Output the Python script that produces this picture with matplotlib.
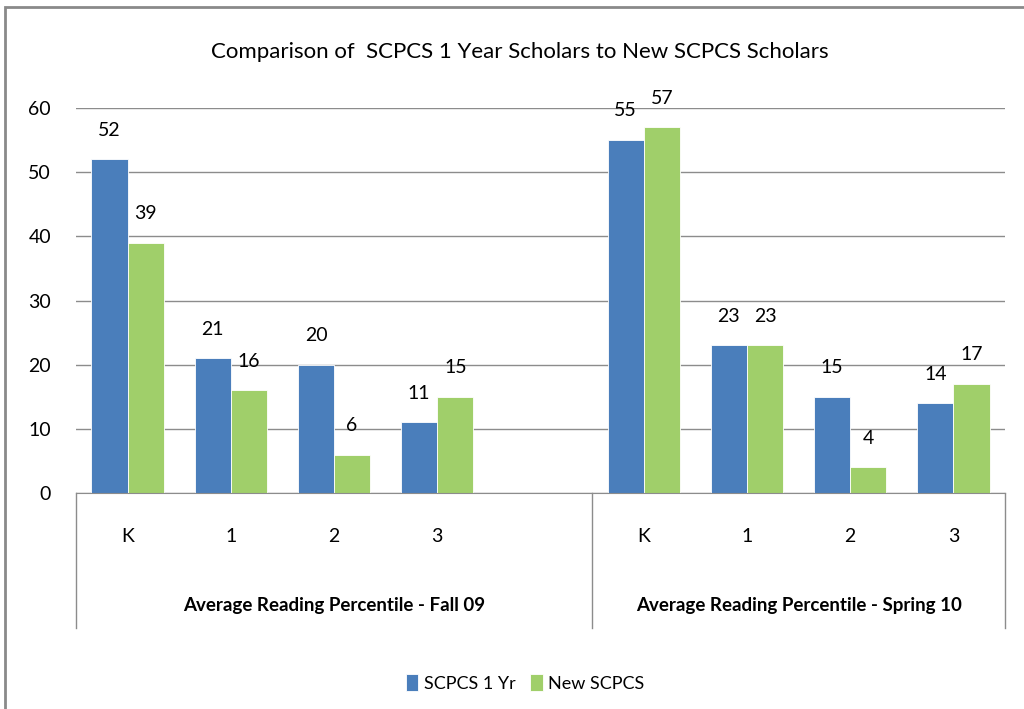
import numpy as np
import matplotlib
matplotlib.use('Agg')
import matplotlib.pyplot as plt
from matplotlib.patches import Rectangle

# data
grades = ['K', '1', '2', '3']
terms = ['Average Reading Percentile - Fall 09', 'Average Reading Percentile - Spring 10']
series_names = ['SCPCS 1 Yr', 'New SCPCS']
scpcs_1yr_fall = [52, 21, 20, 11]
scpcs_1yr_spring = [55, 23, 15, 14]
new_scpcs_fall = [39, 16, 6, 15]
new_scpcs_spring = [57, 23, 4, 17]
yticks = [0, 10, 20, 30, 40, 50, 60]

BLUE = '#4A7EBB'
GREEN = '#A0CF6A'
GRID = '#8C8C8C'
FONT = ['Lato', 'DejaVu Sans']

fig = plt.figure(figsize=(10.24, 7.09), dpi=100)
ax = fig.add_axes([76 / 1024, 1 - 493 / 709, (1005 - 76) / 1024, (493 - 108) / 709])

# Excel leaves an empty slot after the Fall group
fall_x = np.arange(len(grades))
spring_x = np.arange(len(grades)) + len(grades) + 1
w = 0.35

blue_vals = scpcs_1yr_fall + scpcs_1yr_spring
green_vals = new_scpcs_fall + new_scpcs_spring
xs = np.concatenate([fall_x, spring_x])

b1 = ax.bar(xs - w / 2, blue_vals, w, color=BLUE, edgecolor='white', lw=0.6, label=series_names[0])
b2 = ax.bar(xs + w / 2, green_vals, w, color=GREEN, edgecolor='white', lw=0.6, label=series_names[1])

for bars in (b1, b2):
    for r in bars:
        ax.annotate(f'{int(r.get_height())}', (r.get_x() + r.get_width() / 2, r.get_height()),
                    xytext=(0, 21), textcoords='offset points', ha='center', va='center',
                    fontsize=14, family=FONT)

ax.set_xlim(-0.5, 8.5)
ax.set_ylim(0, 60)
ax.set_yticks(yticks)
ax.yaxis.grid(True, color=GRID, lw=1)
ax.set_axisbelow(True)
ax.tick_params(axis='y', length=0, pad=18, labelsize=14)
for lab in ax.get_yticklabels():
    lab.set_family(FONT)
ax.set_xticks([])
for s in ('top', 'right', 'left'):
    ax.spines[s].set_visible(False)
ax.spines['bottom'].set_color(GRID)

# multi-level category axis
xt = ax.get_xaxis_transform()
edges = [-0.5, len(grades) + 0.5, 8.5]
for xv in edges:
    ax.plot([xv, xv], [0, -0.351], transform=xt, color=GRID, lw=1, clip_on=False)
for xv, g in zip(xs, grades + grades):
    ax.text(xv, -0.114, g, transform=xt, ha='center', va='center', fontsize=14, family=FONT)
for i, term in enumerate(terms):
    ax.text((edges[i] + edges[i + 1]) / 2, -0.291, term, transform=xt, ha='center', va='center',
            fontsize=13.5, family=FONT, fontweight='bold')

fig.text(520 / 1024, 1 - 52 / 709, 'Comparison of  SCPCS 1 Year Scholars to New SCPCS Scholars',
         ha='center', va='center', fontsize=16, family=FONT)

fig.legend(handles=[b1, b2], loc='center', bbox_to_anchor=(525 / 1024, 1 - 683 / 709),
           ncol=2, frameon=False, handlelength=0.7, handleheight=1.0, handletextpad=0.3,
           columnspacing=0.8, prop={'family': FONT, 'size': 13})

# outer chart frame (cropped at right and bottom in the reference)
fig.patches.append(Rectangle((5 / 1024, -0.1), 1.2, 1 - 7 / 709 + 0.1, transform=fig.transFigure,
                             fill=False, edgecolor='#8A8A8A', lw=2))

fig.savefig('out.png', dpi=100)
